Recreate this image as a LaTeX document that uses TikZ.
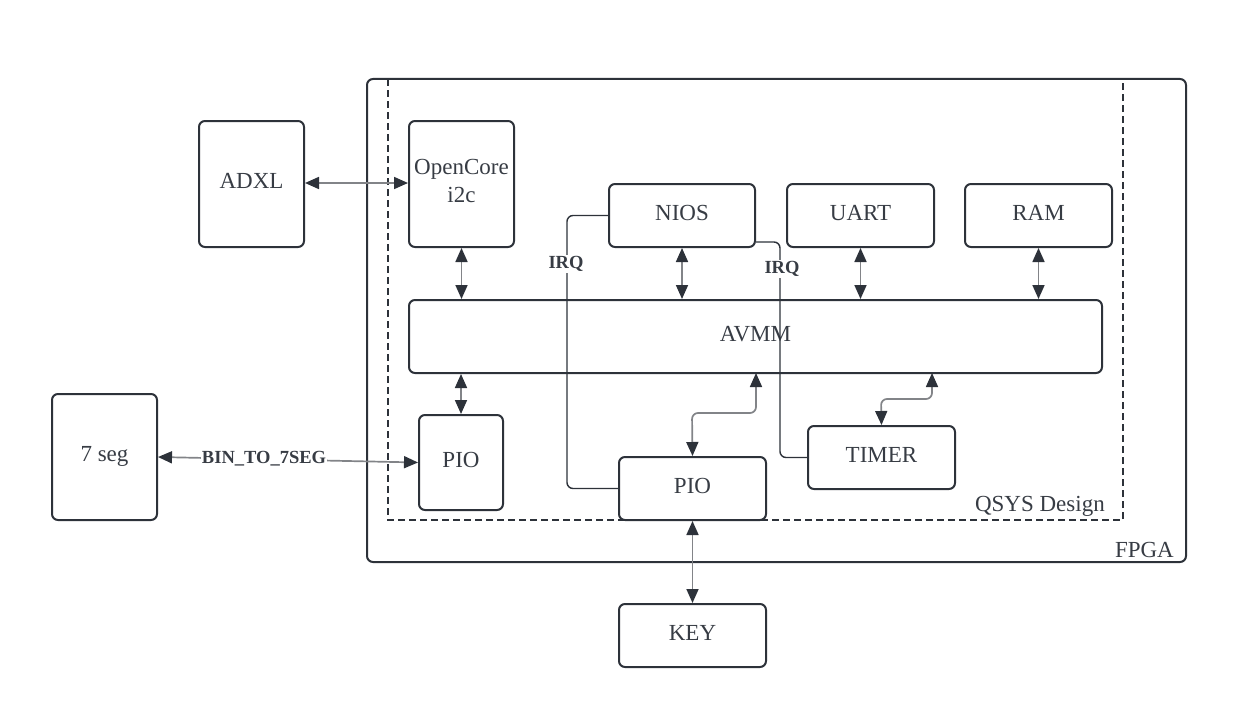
\documentclass[tikz,border=0pt]{standalone}
\usepackage{fontspec}
\setmainfont{Liberation Serif}
\usetikzlibrary{arrows.meta}
\definecolor{dk}{RGB}{45,50,58}
\definecolor{tx}{RGB}{55,60,68}
\definecolor{gl}{RGB}{130,132,136}
\begin{document}
\begin{tikzpicture}[x=1pt,y=-1pt,
  box/.style={draw=dk,line width=2pt,rounded corners=6pt,inner sep=0pt,text=tx,font=\fontsize{23}{28}\selectfont,align=center,text depth=6pt},
  arr/.style={draw=gl,line width=1.7pt,{Triangle[length=14pt,width=12pt,color=dk]}-{Triangle[length=14pt,width=12pt,color=dk]}},
  irq/.style={draw=dk,line width=1.4pt,rounded corners=6pt},
  lbl/.style={fill=white,inner sep=1pt,text=tx,font=\bfseries\fontsize{18.5}{22}\selectfont}]
\useasboundingbox (0,0) rectangle (1245,701);
% containers
\draw[dk,line width=2pt,rounded corners=6pt] (367,79) rectangle (1186,562);
\node[text=tx,font=\fontsize{23}{28}\selectfont,anchor=south east,inner sep=0pt] (fpga) at (1174,558) {FPGA};
\draw[dk,line width=1.6pt,dash pattern=on 7pt off 4pt] (388,79) rectangle (1123,520);
\node[text=tx,font=\fontsize{23}{28}\selectfont,anchor=south east,inner sep=0pt] (qsys) at (1105,517) {QSYS Design};
% boxes
\node[box,minimum width=105,minimum height=126] (adxl) at (251.5,184) {ADXL};
\node[box,minimum width=105,minimum height=126] (oc) at (461.5,184) {OpenCore\\i2c};
\node[box,minimum width=146,minimum height=63] (nios) at (682,215.5) {NIOS};
\node[box,minimum width=147,minimum height=63] (uart) at (860.5,215.5) {UART};
\node[box,minimum width=147,minimum height=63] (ram) at (1038.5,215.5) {RAM};
\node[box,minimum width=693,minimum height=73] (avmm) at (755.5,336.5) {AVMM};
\node[box,minimum width=84,minimum height=95] (pioL) at (461,462.5) {PIO};
\node[box,minimum width=105,minimum height=126] (seg) at (104.5,457) {7 seg};
\node[box,minimum width=147,minimum height=63] (pioB) at (692.5,488.5) {PIO};
\node[box,minimum width=147,minimum height=63] (timer) at (881.5,457.5) {TIMER};
\node[box,minimum width=147,minimum height=63] (key) at (692.5,635.5) {KEY};
% coordinates on AVMM
\coordinate (a1) at (756,373);
\coordinate (a2) at (932,373);
% connectors
\draw[arr] (adxl.east|-0,183) -- (oc.west|-0,183);
\draw[arr] (oc.south) -- (oc.south|-avmm.north);
\draw[arr] (nios.south) -- (nios.south|-avmm.north);
\draw[arr] (uart.south) -- (uart.south|-avmm.north);
\draw[arr] (ram.south) -- (ram.south|-avmm.north);
\draw[arr] (pioL.north|-avmm.south) -- (pioL.north);
\draw[arr] (seg.east) -- (pioL.west);
\node[lbl] (bin) at (264,459) {BIN\_TO\_7SEG};
\draw[arr,rounded corners=6pt] (pioB.north) -- (692,413) -- (756,413) -- (a1);
\draw[arr,rounded corners=6pt] (timer.north) -- (881,399) -- (932,399) -- (a2);
\draw[arr] (pioB.south) -- (key.north);
% IRQ
\draw[irq] (nios.west) -- (567,215.5) -- (567,488.5) -- (pioB.west);
\node[lbl] (irq1) at (566,264) {IRQ};
\draw[irq] (nios.east|-0,242) -- (780,242) -- (780,457.5) -- (timer.west);
\node[lbl] (irq2) at (782,269) {IRQ};
\end{tikzpicture}
\end{document}
